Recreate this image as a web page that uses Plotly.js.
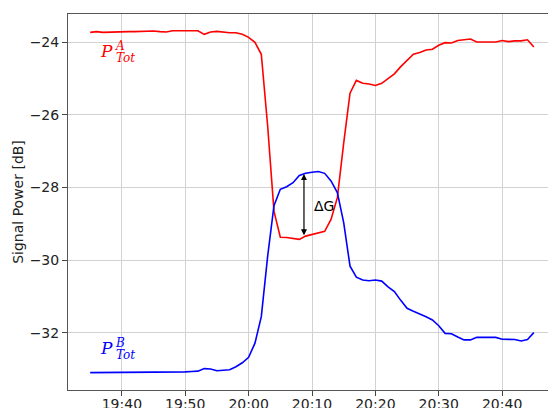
<!DOCTYPE html>
<html>
<head>
<meta charset="utf-8">
<script src="https://cdn.plot.ly/plotly-3.0.1.min.js"></script>
<style>
  html, body { margin: 0; padding: 0; overflow: hidden; background: #fff; width: 548px; height: 408px; }
  #chart { width: 560px; height: 430px; }
</style>
</head>
<body>
<div id="chart"></div>
<script>
// Time stamps (one sample per minute)
const times = [
  "19:35","19:36","19:37","19:38","19:39","19:40","19:41","19:42","19:43","19:44",
  "19:45","19:46","19:47","19:48","19:49","19:50","19:51","19:52","19:53","19:54",
  "19:55","19:56","19:57","19:58","19:59","20:00","20:01","20:02","20:03","20:04",
  "20:05","20:06","20:07","20:08","20:09","20:10","20:11","20:12","20:13","20:14",
  "20:15","20:16","20:17","20:18","20:19","20:20","20:21","20:22","20:23","20:24",
  "20:25","20:26","20:27","20:28","20:29","20:30","20:31","20:32","20:33","20:34",
  "20:35","20:36","20:37","20:38","20:39","20:40","20:41","20:42","20:43","20:44",
  "20:45"
];

// P_Tot^A (red) [dB]
const powerA = [
  -23.725,-23.707,-23.725,-23.716,-23.725,-23.707,-23.707,-23.707,-23.698,-23.698,
  -23.689,-23.707,-23.716,-23.680,-23.689,-23.680,-23.680,-23.680,-23.780,-23.716,
  -23.698,-23.725,-23.735,-23.735,-23.780,-23.863,-24.000,-24.330,-26.300,-28.650,
  -29.370,-29.380,-29.400,-29.430,-29.340,-29.290,-29.250,-29.210,-28.880,-28.280,
  -26.780,-25.400,-25.050,-25.130,-25.150,-25.190,-25.130,-25.000,-24.870,-24.670,
  -24.490,-24.330,-24.280,-24.210,-24.190,-24.080,-24.010,-24.020,-23.950,-23.920,
  -23.910,-23.990,-23.990,-23.980,-23.990,-23.950,-23.980,-23.960,-23.960,-23.930,
  -24.130
];

// P_Tot^B (blue) [dB]
const powerB = [
  -33.10,-33.10,-33.10,-33.10,-33.09,-33.09,-33.09,-33.09,-33.09,-33.10,
  -33.10,-33.09,-33.09,-33.09,-33.09,-33.08,-33.07,-33.06,-32.99,-33.00,
  -33.05,-33.04,-33.02,-32.94,-32.83,-32.68,-32.29,-31.56,-29.90,-28.50,
  -28.05,-27.98,-27.87,-27.67,-27.61,-27.58,-27.56,-27.61,-27.82,-28.14,
  -28.97,-30.17,-30.47,-30.55,-30.57,-30.55,-30.58,-30.74,-30.87,-31.11,
  -31.33,-31.41,-31.48,-31.56,-31.65,-31.81,-32.02,-32.03,-32.12,-32.20,
  -32.20,-32.13,-32.13,-32.14,-32.13,-32.18,-32.19,-32.19,-32.23,-32.19,
  -32.00
];

// Delta-G marker (time, lower and upper value)
const dgTime = "20:08:44";
const dgLow = -29.355;
const dgHigh = -27.63;

const day = "2024-01-01 ";
const x = times.map(t => day + t);

const font = "DejaVu Sans";
const axisCommon = {
  showgrid: true, gridcolor: "#d2d2d2", gridwidth: 1,
  showline: true, linecolor: "#555", linewidth: 1, mirror: true,
  ticks: "outside", ticklen: 5, tickcolor: "#444", tickwidth: 1,
  zeroline: false,
  tickfont: { family: font, size: 14, color: "#222" }
};

const traces = [
  { x: x, y: powerA, type: "scatter", mode: "lines",
    line: { color: "#ff0000", width: 1.6 }, showlegend: false, hoverinfo: "skip" },
  { x: x, y: powerB, type: "scatter", mode: "lines",
    line: { color: "#0000ff", width: 1.6 }, showlegend: false, hoverinfo: "skip" }
];

function px(xp) { return (xp - 68) / 488; }
function py(yp) { return (390 - yp) / 376; }

const serif = "DejaVu Serif";
const labelAnn = (txt, xpx, ypx, size, color) => ({
  xref: "paper", yref: "paper", x: px(xpx), y: py(ypx),
  xanchor: "left", yanchor: "middle", showarrow: false,
  text: "<i>" + txt + "</i>", font: { family: serif, size: size, color: color }
});

const layout = {
  width: 560, height: 430,
  margin: { l: 68, r: 4, t: 14, b: 40 },
  paper_bgcolor: "#fff", plot_bgcolor: "#fff",
  font: { family: font, size: 14, color: "#222" },
  xaxis: Object.assign({}, axisCommon, {
    type: "date",
    range: [day + "19:31:30", day + "20:48:30"],
    tick0: day + "19:40", dtick: 600000,
    tickformat: "%H:%M",
    ticklabelstandoff: -4
  }),
  yaxis: Object.assign({}, axisCommon, {
    range: [-33.58, -23.22],
    tick0: 0, dtick: 2,
    title: { text: "Signal Power [dB]", font: { family: font, size: 14, color: "#222" }, standoff: 2 }
  }),
  annotations: [
    { x: day + dgTime, y: dgHigh, ax: day + dgTime, ay: dgLow,
      xref: "x", yref: "y", axref: "x", ayref: "y",
      text: "", showarrow: true, arrowside: "end+start",
      arrowhead: 2, arrowsize: 1, arrowwidth: 1.2, arrowcolor: "#000" },
    { x: day + "20:11:55", y: -28.52, xref: "x", yref: "y",
      text: "ΔG", showarrow: false, xanchor: "center", yanchor: "middle",
      font: { family: font, size: 14, color: "#000" } },
    labelAnn("P", 97.5, 51, 17, "#ff0000"),
    labelAnn("A", 113, 46, 12, "#ff0000"),
    labelAnn("Tot", 113.5, 58, 12, "#ff0000"),
    labelAnn("P", 97.5, 347.5, 17, "#0000ff"),
    labelAnn("B", 113, 342.5, 12, "#0000ff"),
    labelAnn("Tot", 113.5, 354.5, 12, "#0000ff")
  ]
};

Plotly.newPlot("chart", traces, layout, { displayModeBar: false, staticPlot: true });
</script>
</body>
</html>
